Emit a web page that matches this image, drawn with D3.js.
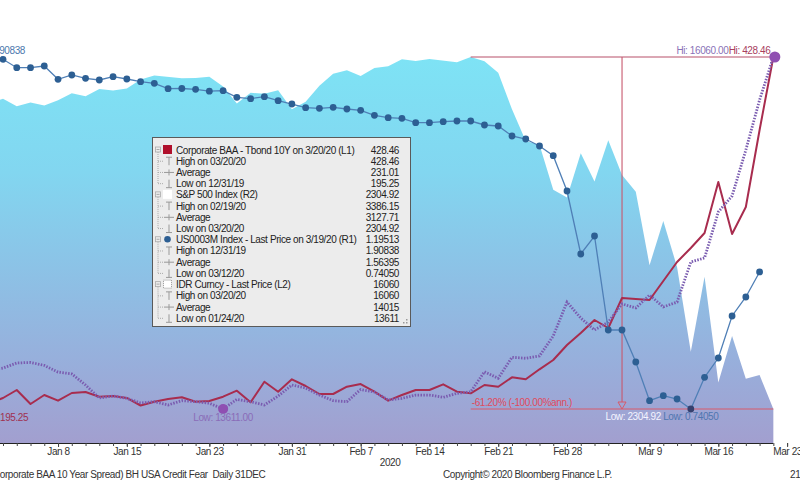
<!DOCTYPE html>
<html><head><meta charset="utf-8">
<script src="https://cdn.jsdelivr.net/npm/d3@7"></script>
<style>
html,body{margin:0;padding:0;background:#fff;overflow:hidden}
svg{display:block}
text{font-family:"Liberation Sans",Arial,sans-serif;letter-spacing:-0.4px}
</style></head><body>
<svg id="c" width="800" height="501"></svg>
<script>
// ---------- categories (weekdays) ----------
const dates = ["12/31","1/1","1/2","1/3","1/6","1/7","1/8","1/9","1/10","1/13","1/14","1/15","1/16","1/17","1/20",
"1/21","1/22","1/23","1/24","1/27","1/28","1/29","1/30","1/31","2/3","2/4","2/5","2/6","2/7","2/10","2/11","2/12",
"2/13","2/14","2/17","2/18","2/19","2/20","2/21","2/24","2/25","2/26","2/27","2/28","3/2","3/3","3/4","3/5","3/6",
"3/9","3/10","3/11","3/12","3/13","3/16","3/17","3/18","3/19","3/20","3/23"];

// ---------- series ----------
const spx = [3230.78,null,3257.85,3234.85,3246.28,3237.18,3253.05,3274.70,3265.35,3288.13,3283.15,3289.29,3316.81,3329.62,null,
3320.79,3321.75,3325.54,3295.47,3243.63,3276.24,3273.40,3283.66,3225.52,3248.92,3297.59,3334.69,3345.78,3327.71,3352.09,3357.75,3379.45,
3373.94,3380.16,null,3370.29,3386.15,3373.23,3337.75,3225.89,3128.21,3116.39,2978.76,2954.22,3090.23,3003.37,3130.12,3023.94,2972.37,
2746.56,2882.23,2741.38,2480.64,2711.02,2386.13,2529.19,2398.10,2409.39,2304.92];

const baa = [195.25,null,202.54,207.84,198.56,204.53,200.75,205.85,206.51,203.40,203.86,202.54,197.57,200.09,201.88,
203.00,200.09,200.55,203.40,207.37,199.69,213.34,206.71,214.93,210.49,205.19,205.19,210.02,211.81,206.71,200.75,204.53,
207.84,207.84,211.61,206.71,205.65,211.15,210.02,216.25,214.93,221.55,227.71,237.65,245.60,254.22,248.92,268.79,268.13,
267.47,280.05,292.64,301.92,311.86,345.64,311.19,329.08,380.09,428.46];

const libor = [1.90838,null,1.9007,1.8729,1.8729,1.8785,1.8344,1.8487,1.8377,1.8321,1.8430,1.8354,1.8264,1.8211,1.8032,
1.8039,1.8012,1.7949,1.7966,1.7747,1.7700,1.7767,1.7634,1.7524,1.7402,1.7382,1.7415,1.7359,1.7315,1.7150,1.7070,1.7050,
1.6904,1.6904,1.6937,1.6960,1.6960,1.6828,1.6795,1.6463,1.6363,1.6131,1.5809,1.4638,1.2548,1.3145,1.0026,1.0026,0.8964,
0.7680,0.7846,0.7737,0.7405,0.8457,0.9097,1.0491,1.1121,1.19513,null];

const idr = [13868,null,13896,13931,13935,13914,13868,13855,13778,13688,13701,13685,13653,13662,13639,
13669,13662,13651,13611,13678,13662,13639,13701,13778,13757,13708,13669,13662,13747,13729,13674,13685,
13708,13708,13692,13720,13731,13870,13825,13971,13964,13980,14119,14355,14244,14161,14216,14342,14314,
14404,14321,14355,14634,14662,14982,15093,15413,15761,16060];

// ---------- ticks ----------
const tickDates = ["1/8","1/15","1/23","1/31","2/7","2/14","2/21","2/28","3/9","3/16","3/23"];
const tickLabels = ["Jan 8","Jan 15","Jan 23","Jan 31","Feb 7","Feb 14","Feb 21","Feb 28","Mar 9","Mar 16","Mar 23"];

// ---------- legend ----------
const legendHeaders = ["Corporate BAA - Tbond 10Y on 3/20/20 (L1)","S&P 500 Index (R2)","US0003M Index - Last Price on 3/19/20 (R1)","IDR Curncy - Last Price (L2)"];
const legendLast = ["428.46","2304.92","1.19513","16060"];
const legendHighLabels = ["High on 03/20/20","High on 02/19/20","High on 12/31/19","High on 03/20/20"];
const legendHigh = ["428.46","3386.15","1.90838","16060"];
const legendAvg = ["231.01","3127.71","1.56395","14015"];
const legendLowLabels = ["Low on 12/31/19","Low on 03/20/20","Low on 03/12/20","Low on 01/24/20"];
const legendLow = ["195.25","2304.92","0.74050","13611"];

const footerLeft = "(Corporate BAA 10 Year Spread) BH USA Credit Fear \u00A0Daily 31DEC";
const footerMid = "Copyright\u00A9 2020 Bloomberg Finance L.P.";
const changeLabel = "-61.20% (-100.00%ann.)";

// ---------- drawing ----------
const svg = d3.select("#c");
const axisY = 443, yTop = 57, yBot = 409;
const x = d3.scalePoint().domain(dates).range([-24.5, 787.1]);
const ySpx = d3.scaleLinear().domain([d3.min(spx), d3.max(spx)]).range([yBot, yTop]);
const yBaa = d3.scaleLinear().domain([d3.min(baa), d3.max(baa)]).range([yBot, yTop]);
const yLib = d3.scaleLinear().domain([d3.min(libor), d3.max(libor)]).range([yBot, yTop]);
const yIdr = d3.scaleLinear().domain([d3.min(idr), d3.max(idr)]).range([yBot, yTop]);

const rows = arr => arr.map((v,i)=>({d:dates[i], v})).filter(r=>r.v!=null);

const defs = svg.append("defs");
const g = defs.append("linearGradient").attr("id","ag").attr("gradientUnits","userSpaceOnUse")
  .attr("x1",0).attr("y1",yTop).attr("x2",0).attr("y2",axisY);
[[0,"#7ee3f5"],[0.3,"#82d6f0"],[0.55,"#8cc2e6"],[0.8,"#98aedb"],[1,"#a29fcf"]].forEach(s=>
  g.append("stop").attr("offset",s[0]).attr("stop-color",s[1]));

// S&P area
svg.append("path").datum(rows(spx))
  .attr("d", d3.area().x(d=>x(d.d)).y0(axisY).y1(d=>ySpx(d.v)))
  .attr("fill","url(#ag)");

// axis
const last = dates[58];
svg.append("line").attr("x1",0).attr("x2",x(last)).attr("y1",axisY+0.5).attr("y2",axisY+0.5)
  .attr("stroke","#222").attr("stroke-width",1.2);
const minor = d3.axisBottom(x).tickValues(dates).tickSize(3).tickFormat("");
const ga = svg.append("g").attr("transform",`translate(0,${axisY})`).call(minor);
ga.select(".domain").remove();
ga.selectAll("line").attr("stroke","#444");
const major = d3.axisBottom(x).tickValues(tickDates).tickSize(4).tickPadding(1)
  .tickFormat((d,i)=>tickLabels[i]);
const gm = svg.append("g").attr("transform",`translate(0,${axisY})`).call(major);
gm.select(".domain").remove();
gm.selectAll("line").attr("stroke","#444");
gm.selectAll("text").attr("font-family","Liberation Sans, Arial, sans-serif").attr("font-size",10).attr("fill","#333");

svg.append("text").attr("x",(x("2/14")+x("2/7"))/2 - 5).attr("y",466).attr("text-anchor","middle")
  .attr("font-size",10).attr("fill","#333").text("2020");
svg.append("text").attr("x",-10).attr("y",478).attr("font-size",10).attr("fill","#333").text(footerLeft);
svg.append("text").attr("x",443).attr("y",478).attr("font-size",10).attr("fill","#333").text(footerMid);
svg.append("text").attr("x",790).attr("y",478).attr("font-size",10).attr("fill","#333").text("21");

// percent-change annotation (S&P high -> S&P low)
const hiDate = dates[spx.indexOf(d3.max(spx))];
const xa = x(hiDate), xb = x(last), xm = (xa+xb)/2;
const ya = ySpx(d3.max(spx)), yb = ySpx(d3.min(spx));
svg.append("line").attr("x1",xa).attr("x2",xb).attr("y1",ya).attr("y2",ya).attr("stroke","#b8506a").attr("stroke-width",1.2);
svg.append("line").attr("x1",xa).attr("x2",xb).attr("y1",yb).attr("y2",yb).attr("stroke","#d85a6a").attr("stroke-width",1.2);
svg.append("line").attr("x1",xm).attr("x2",xm).attr("y1",ya).attr("y2",yb-7).attr("stroke","#c8586e").attr("stroke-width",1.1);
svg.append("path").attr("d",`M${xm-4},${yb-7}L${xm+4},${yb-7}L${xm},${yb}Z`).attr("fill","none").attr("stroke","#d85a6a").attr("stroke-width",1);
svg.append("text").attr("x",xa+1).attr("y",yb-3).attr("font-size",10).attr("fill","#e04a5c").text(changeLabel);

// BAA spread line
svg.append("path").datum(rows(baa))
  .attr("d", d3.line().x(d=>x(d.d)).y(d=>yBaa(d.v)))
  .attr("fill","none").attr("stroke","#a82c4e").attr("stroke-width",2).attr("stroke-linejoin","round");

// IDR dotted line
svg.append("path").datum(rows(idr))
  .attr("d", d3.line().x(d=>x(d.d)).y(d=>yIdr(d.v)))
  .attr("fill","none").attr("stroke","#7a5cb0").attr("stroke-width",2.8).attr("stroke-dasharray","1.5,1.4");

// LIBOR line + dots
const lr = rows(libor);
svg.append("path").datum(lr)
  .attr("d", d3.line().x(d=>x(d.d)).y(d=>yLib(d.v)))
  .attr("fill","none").attr("stroke","#4f7fb6").attr("stroke-width",1.3);
const libMin = d3.min(libor);
svg.selectAll("circle.lib").data(lr).enter().append("circle").attr("class","lib")
  .attr("cx",d=>x(d.d)).attr("cy",d=>yLib(d.v)).attr("r",3.4)
  .attr("fill",d=>d.v===libMin?"#36406e":"#2d5f93");

// IDR highlight points
const idrMinD = dates[idr.indexOf(d3.min(idr))];
svg.append("circle").attr("cx",x(idrMinD)).attr("cy",yIdr(d3.min(idr))).attr("r",5).attr("fill","#8f4fb2");
svg.append("circle").attr("cx",x(last)+1.5).attr("cy",yIdr(d3.max(idr))).attr("r",5.5).attr("fill","#8f4fb2");

// value labels
svg.append("text").attr("x",25).attr("y",yLib(d3.max(libor))-3).attr("text-anchor","end").attr("font-size",10).attr("fill","#4d78ad").text(d3.format(".5f")(d3.max(libor)));
svg.append("text").attr("x",0).attr("y",yBaa(d3.min(baa))+12).attr("font-size",10).attr("fill","#a03050").text(d3.format(".2f")(d3.min(baa)));
svg.append("text").attr("x",x(idrMinD)).attr("y",yIdr(d3.min(idr))+12).attr("text-anchor","middle").attr("font-size",10).attr("fill","#8a6cb8").text("Low: "+d3.format(".2f")(d3.min(idr)));
const libMinD = dates[libor.indexOf(libMin)];
svg.append("text").attr("x",x(libMinD)).attr("y",yLib(libMin)+11).attr("text-anchor","middle").attr("font-size",10).attr("fill","#4f76b0").text("Low: "+d3.format(".5f")(libMin));
svg.append("text").attr("x",x(libMinD)-30).attr("y",yLib(libMin)+11).attr("text-anchor","end").attr("font-size",10).attr("fill","#f4f4ff").text("Low: "+d3.format(".2f")(d3.min(spx)));
svg.append("text").attr("x",x(last)-3).attr("y",yTop-3).attr("text-anchor","end").attr("font-size",10).attr("fill","#a8405e").text("Hi: "+d3.format(".2f")(d3.max(baa)));
svg.append("text").attr("x",x(last)-45).attr("y",yTop-3).attr("text-anchor","end").attr("font-size",10).attr("fill","#8a72b8").text("Hi: "+d3.format(".2f")(d3.max(idr)));

// legend box
const lg = svg.append("g");
lg.append("rect").attr("x",152.5).attr("y",137.5).attr("width",258).attr("height",189)
  .attr("fill","#ececec").attr("stroke","#5a5a5a");
const rowY = i => 150 + i*11.22;
legendHeaders.forEach((h,k)=>{
  const items = [[h,legendLast[k]],[legendHighLabels[k],legendHigh[k]],["Average",legendAvg[k]],[legendLowLabels[k],legendLow[k]]];
  items.forEach((r,j)=>{
    const cy = rowY(k*4+j);
    lg.append("text").attr("x",176).attr("y",cy+3.5).attr("font-size",10).attr("fill","#222").text(r[0]);
    lg.append("text").attr("x",399).attr("y",cy+3.5).attr("text-anchor","end").attr("font-size",10).attr("fill","#222").text(r[1]);
  });
  const hy = rowY(k*4);
  lg.append("rect").attr("x",155.5).attr("y",hy-3).attr("width",5).attr("height",5).attr("fill","none").attr("stroke","#aaa").attr("stroke-width",0.8);
  lg.append("line").attr("x1",156.5).attr("x2",159.5).attr("y1",hy-0.5).attr("y2",hy-0.5).attr("stroke","#999").attr("stroke-width",0.8);
  lg.append("line").attr("x1",158).attr("x2",158).attr("y1",hy+2).attr("y2",rowY(k*4+3)).attr("stroke","#aaa").attr("stroke-dasharray","1,1");
  if(k===0) lg.append("rect").attr("x",163).attr("y",hy-5).attr("width",9).attr("height",9).attr("fill","#b0102c");
  if(k===1) lg.append("rect").attr("x",163).attr("y",hy-5).attr("width",9).attr("height",9).attr("fill","#fff");
  if(k===2) lg.append("circle").attr("cx",167.5).attr("cy",hy-0.5).attr("r",3.3).attr("fill","#2d5f93");
  if(k===3) lg.append("rect").attr("x",163.5).attr("y",hy-4.5).attr("width",8).attr("height",8).attr("fill","#fff").attr("stroke","#999").attr("stroke-dasharray","1,1");
  for(let j=1;j<4;j++){
    const cy = rowY(k*4+j);
    lg.append("line").attr("x1",158).attr("x2",164).attr("y1",cy).attr("y2",cy).attr("stroke","#aaa").attr("stroke-dasharray","1,1");
    const gx = 169;
    if(j===1){ lg.append("path").attr("d",`M${gx-3},${cy-4}H${gx+3}M${gx},${cy-4}V${cy+4}`).attr("stroke","#999").attr("fill","none"); }
    if(j===2){ lg.append("path").attr("d",`M${gx-5},${cy}H${gx+5}M${gx},${cy-3}V${cy+3}`).attr("stroke","#999").attr("fill","none"); }
    if(j===3){ lg.append("path").attr("d",`M${gx},${cy-4}V${cy+4}M${gx-3},${cy+4}H${gx+3}`).attr("stroke","#999").attr("fill","none"); }
  }
});
[[406,322],[403,322],[406,319]].forEach(p=>lg.append("rect").attr("x",p[0]).attr("y",p[1]).attr("width",1.5).attr("height",1.5).attr("fill","#999"));
</script>
</body></html>
